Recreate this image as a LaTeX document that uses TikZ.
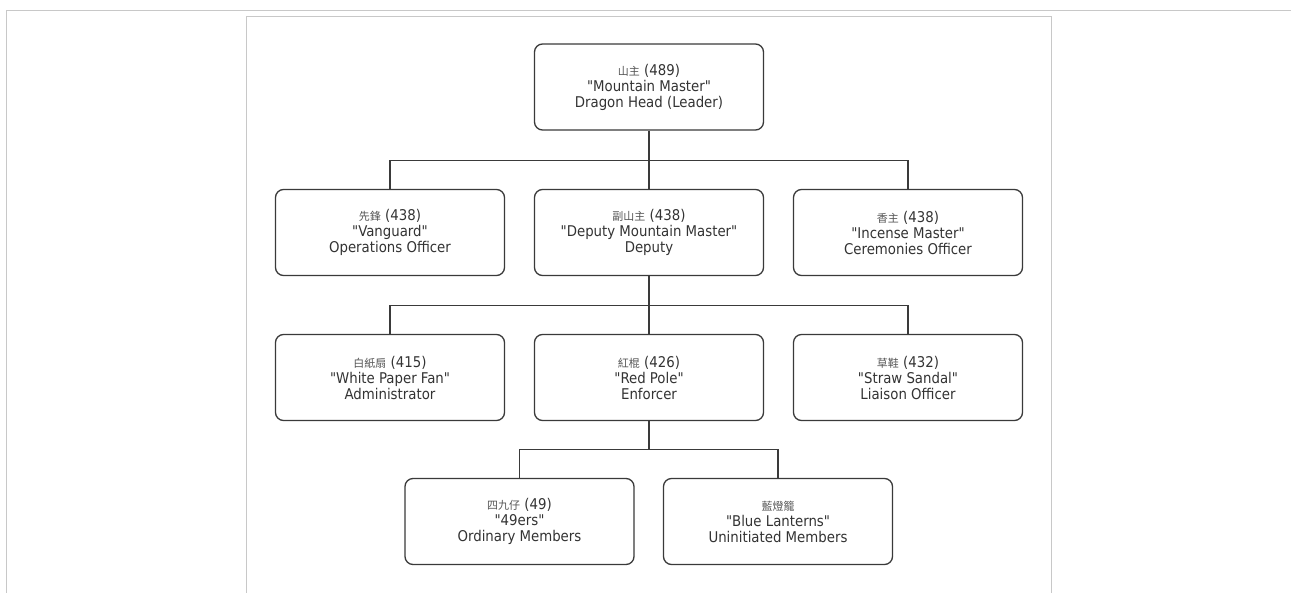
\documentclass[tikz,border=0pt]{standalone}
\usepackage{fontspec}
\setmainfont{DejaVu Sans Condensed}
\newfontfamily\cjk{Noto Sans CJK TC}
\begin{document}
\begin{tikzpicture}[x=1pt,y=-1pt,
  role/.style={draw=boxline, line width=1.3pt, rounded corners=8pt, fill=white,
    minimum width=229pt, minimum height=86pt, inner sep=0pt, align=center,
    text=txt, font=\fontsize{14.8}{16}\selectfont},
  link/.style={draw=boxline, line width=1.3pt},
  frame/.style={draw=framec, line width=1pt}]
\definecolor{boxline}{HTML}{3A3A3A}
\definecolor{txt}{HTML}{333333}
\definecolor{framec}{HTML}{C8C8C8}
\definecolor{cjkc}{HTML}{555555}
\newcommand{\zh}[1]{{\cjk\fontsize{11}{16}\selectfont\color{cjkc}#1}}
\newcommand{\q}[1]{\textquotedbl#1\textquotedbl}
\useasboundingbox (0,0) rectangle (1291,592);
\draw[frame] (6.5,600) -- (6.5,10.5) -- (1291,10.5);
\draw[frame] (246.5,600) -- (246.5,16.5) -- (1051.5,16.5) -- (1051.5,600);
\node[role] (top) at (649,87) {\zh{山主} (489)\\\q{Mountain Master}\\Dragon Head (Leader)};
\node[role] (van) at (390,232.5) {\zh{先鋒} (438)\\\q{Vanguard}\\Operations Officer};
\node[role] (dep) at (649,232.5) {\zh{副山主} (438)\\\q{Deputy Mountain Master}\\Deputy};
\node[role] (inc) at (908,232.5) {\zh{香主} (438)\\\q{Incense Master}\\Ceremonies Officer};
\node[role] (wpf) at (390,377.5) {\zh{白紙扇} (415)\\\q{White Paper Fan}\\Administrator};
\node[role] (red) at (649,377.5) {\zh{紅棍} (426)\\\q{Red Pole}\\Enforcer};
\node[role] (str) at (908,377.5) {\zh{草鞋} (432)\\\q{Straw Sandal}\\Liaison Officer};
\node[role] (ord) at (519.5,521.5) {\zh{四九仔} (49)\\\q{49ers}\\Ordinary Members};
\node[role] (blu) at (778,521.5) {\zh{藍燈籠}\\\q{Blue Lanterns}\\Uninitiated Members};
\coordinate (b1) at (649,160.5);
\coordinate (b2) at (649,305.5);
\coordinate (b3) at (649,449.5);
\draw[link] (top.south) -- (b1);
\draw[link] (van.north) |- (b1) -| (inc.north);
\draw[link] (b1) -- (dep.north);
\draw[link] (dep.south) -- (b2);
\draw[link] (wpf.north) |- (b2) -| (str.north);
\draw[link] (b2) -- (red.north);
\draw[link] (red.south) -- (b3);
\draw[link] (ord.north) |- (b3) -| (blu.north);
\end{tikzpicture}
\end{document}
